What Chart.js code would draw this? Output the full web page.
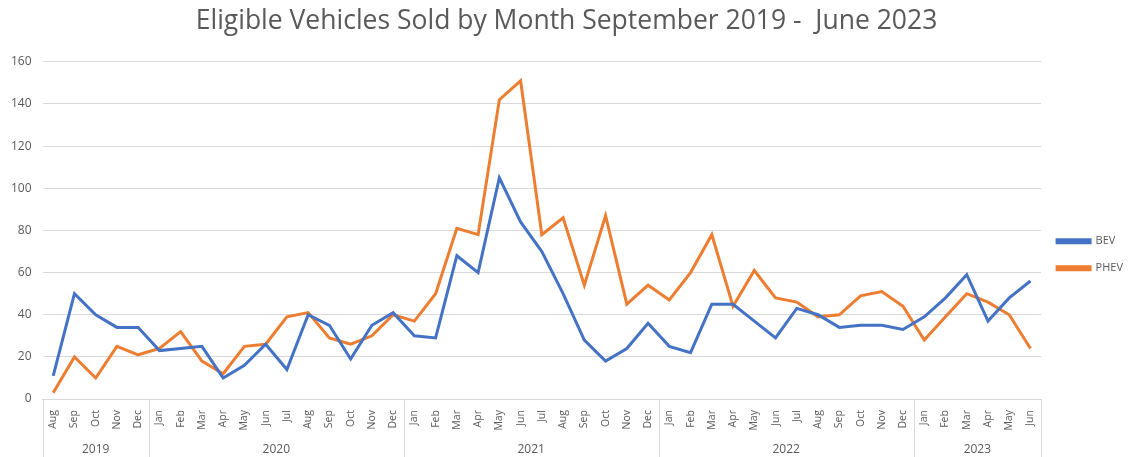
<!DOCTYPE html>
<html>
<head>
<meta charset="utf-8">
<title>Eligible Vehicles Sold by Month</title>
<script src="https://cdn.jsdelivr.net/npm/chart.js@4.4.1/dist/chart.umd.min.js"></script>
<style>
  html, body { margin: 0; padding: 0; background: #fff; }
  #wrap { width: 1133px; height: 457px; position: relative; }
</style>
</head>
<body>
<div id="wrap"><canvas id="myChart"></canvas></div>
<script>
// Kategori bulan (Aug 2019 - Jun 2023)
var months = [
    'Aug', 'Sep', 'Oct', 'Nov', 'Dec',
    'Jan', 'Feb', 'Mar', 'Apr', 'May', 'Jun', 'Jul', 'Aug', 'Sep', 'Oct', 'Nov', 'Dec',
    'Jan', 'Feb', 'Mar', 'Apr', 'May', 'Jun', 'Jul', 'Aug', 'Sep', 'Oct', 'Nov', 'Dec',
    'Jan', 'Feb', 'Mar', 'Apr', 'May', 'Jun', 'Jul', 'Aug', 'Sep', 'Oct', 'Nov', 'Dec',
    'Jan', 'Feb', 'Mar', 'Apr', 'May', 'Jun'
];
var years = ['2019', '2020', '2021', '2022', '2023'];
var monthsPerYear = [5, 12, 12, 12, 6];

// Nilai tiap seri
var bev = [
    11, 50, 40, 34, 34,
    23, 24, 25, 10, 16, 26, 14, 40, 35, 19, 35, 41,
    30, 29, 68, 60, 105, 84, 70, 50, 28, 18, 24, 36,
    25, 22, 45, 45, 37, 29, 43, 40, 34, 35, 35, 33,
    39, 48, 59, 37, 48, 56
];
var phev = [
    3, 20, 10, 25, 21,
    24, 32, 18, 12, 25, 26, 39, 41, 29, 26, 30, 40,
    37, 50, 81, 78, 142, 151, 78, 86, 54, 87, 45, 54,
    47, 60, 78, 44, 61, 48, 46, 39, 40, 49, 51, 44,
    28, 39, 50, 46, 40, 24
];
var yTicks = [0, 20, 40, 60, 80, 100, 120, 140, 160];

// posisi tengah & batas tiap tahun (dalam indeks kategori)
var yearCenters = [];
var yearBounds = [-0.5];
var acc = 0;
monthsPerYear.forEach(function (n) {
    yearCenters.push(acc + (n - 1) / 2);
    acc += n;
    yearBounds.push(acc - 0.5);
});

var fontFam = '"Open Sans", "DejaVu Sans", sans-serif';
var textCol = '#595959';
var gridCol = '#D9D9D9';

// garis pemisah tahun di bawah sumbu x
var yearDividers = {
    id: 'yearDividers',
    afterDraw: function (chart) {
        var x = chart.scales.x;
        var ctx = chart.ctx;
        ctx.save();
        ctx.strokeStyle = gridCol;
        ctx.lineWidth = 1;
        yearBounds.forEach(function (b) {
            var px = Math.round(x.getPixelForValue(b)) + 0.5;
            ctx.beginPath();
            ctx.moveTo(px, chart.chartArea.bottom);
            ctx.lineTo(px, chart.height);
            ctx.stroke();
        });
        ctx.restore();
    }
};

var ctx1 = document.getElementById('myChart').getContext('2d');
var myChart = new Chart(ctx1, {
    type: 'line',
    data: {
        labels: months,
        datasets: [{
            label: 'BEV',
            data: bev,
            borderColor: '#4472C4',
            backgroundColor: '#4472C4',
            borderWidth: 3,
            pointRadius: 0,
            fill: false
        }, {
            label: 'PHEV',
            data: phev,
            borderColor: '#ED7D31',
            backgroundColor: '#ED7D31',
            borderWidth: 3,
            pointRadius: 0,
            fill: false
        }]
    },
    options: {
        maintainAspectRatio: false,
        responsive: true,
        animation: false,
        layout: { padding: { left: 0, right: 0, bottom: 0 } },
        plugins: {
            title: {
                display: true,
                text: 'Eligible Vehicles Sold by Month September 2019 -  June 2023',
                color: textCol,
                font: { family: fontFam, size: 26.5, weight: 'normal' },
                padding: { top: 6, bottom: 24 }
            },
            legend: {
                position: 'right',
                // judul kosong hanya untuk menurunkan posisi legenda
                title: { display: true, text: '', font: { size: 12 }, padding: { top: 0, bottom: 38 } },
                labels: {
                    boxWidth: 33,
                    boxHeight: 3,
                    padding: 16,
                    color: textCol,
                    font: { family: fontFam, size: 11 }
                }
            },
            tooltip: { enabled: false }
        },
        scales: {
            y: {
                min: 0,
                max: 160,
                afterBuildTicks: function (axis) {
                    axis.ticks = yTicks.map(function (v) { return { value: v }; });
                },
                grid: { color: gridCol, drawTicks: false },
                border: { display: false },
                ticks: {
                    color: textCol,
                    padding: 11,
                    font: { family: fontFam, size: 12 }
                }
            },
            x: {
                type: 'category',
                offset: true,
                grid: { display: false, drawTicks: false },
                border: { display: true, color: gridCol },
                ticks: {
                    color: textCol,
                    autoSkip: false,
                    minRotation: 90,
                    maxRotation: 90,
                    padding: 11,
                    font: { family: fontFam, size: 10.5 }
                }
            },
            xYear: {
                type: 'linear',
                position: 'bottom',
                min: -0.5,
                max: months.length - 0.5,
                afterBuildTicks: function (axis) {
                    axis.ticks = yearCenters.map(function (v) { return { value: v }; });
                },
                grid: { display: false, drawTicks: false },
                border: { display: false },
                ticks: {
                    color: textCol,
                    autoSkip: false,
                    maxRotation: 0,
                    padding: 0.5,
                    font: { family: fontFam, size: 12 },
                    callback: function (v, i) { return years[i]; }
                }
            }
        }
    },
    plugins: [yearDividers]
});
</script>
</body>
</html>
